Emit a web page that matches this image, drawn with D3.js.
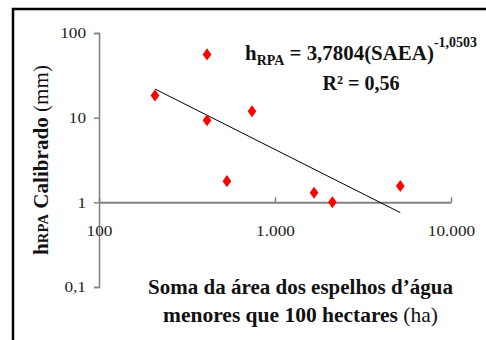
<!DOCTYPE html>
<html><head><meta charset="utf-8">
<script src="https://cdn.jsdelivr.net/npm/d3@7"></script>
<style>body{margin:0;background:#fff}svg{display:block}</style>
</head><body><svg id="c" width="486" height="340"></svg>
<script>
const areaHa = [208, 411, 411, 740, 533, 1667, 2118, 5150];
const hRPA   = [18.3, 55.9, 9.3, 11.9, 1.78, 1.30, 1.0, 1.56];
const trendX = [208, 5150];
const trendY = [21.8, 0.756];
const xTicks = [100, 1000, 10000];
const xTickLabels = ["100", "1.000", "10.000"];
const yTicks = [0.1, 1, 10, 100];
const yTickLabels = ["0,1", "1", "10", "100"];

const svg = d3.select("#c");
const font = "'Liberation Serif', 'Times New Roman', serif";
const x = d3.scaleLog().domain([100, 10000]).range([99, 451]);
const y = d3.scaleLog().domain([0.1, 100]).range([287, 33]);
const axisGray = "#808080";

// fit a text's width by horizontal scaling around its anchor
function fit(t, w) {
  const bw = t.node().getBBox().width;
  t.attr("transform", `scale(${w / bw},1)`);
}

// frame
svg.append("path").attr("d", "M13,340 L13,9 L486,9").attr("fill", "none")
  .attr("stroke", "#000").attr("stroke-width", 2.5);

// y axis
const ya = svg.append("g").attr("transform", "translate(99,0)")
  .call(d3.axisLeft(y).tickValues(yTicks).tickSize(5).tickFormat((d,i)=>yTickLabels[i]));
ya.select(".domain").attr("stroke", axisGray).attr("stroke-width", 1.5);
ya.selectAll(".tick line").attr("stroke", axisGray).attr("stroke-width", 1.5);
ya.selectAll(".tick text").attr("font-family", font).attr("font-size", 15).attr("fill", "#222")
  .attr("x", 0).attr("transform", "translate(-13,0) scale(1.15,1)");

// x axis at y=1
const xa = svg.append("g").attr("transform", `translate(0,${y(1)})`)
  .call(d3.axisTop(x).tickValues(xTicks).tickSize(5).tickSizeOuter(0).tickFormat((d,i)=>xTickLabels[i]));
xa.select(".domain").attr("stroke", axisGray).attr("stroke-width", 2);
xa.selectAll(".tick line").attr("stroke", axisGray).attr("stroke-width", 1.5);
xa.selectAll(".tick text").attr("font-family", font).attr("font-size", 15).attr("fill", "#222")
  .attr("y", 0).attr("dy", 0).attr("transform", "translate(0,34) scale(1.15,1)");

// trend line
svg.append("line").attr("x1", x(trendX[0])).attr("y1", y(trendY[0]))
  .attr("x2", x(trendX[1])).attr("y2", y(trendY[1]))
  .attr("stroke", "#000").attr("stroke-width", 1);

// points
svg.selectAll(".pt").data(areaHa).enter().append("path").attr("class","pt")
  .attr("d", d3.symbol().type(d3.symbolDiamond).size(42))
  .attr("transform", (d,i)=>`translate(${x(d)},${y(hRPA[i])}) scale(1.25,1)`)
  .attr("fill", "#ff0000");

// equation
const eqG = svg.append("g").attr("transform", "translate(245,60)");
const eq = eqG.append("text").attr("font-family", font)
  .attr("font-weight", "bold").attr("font-size", 21).attr("fill", "#111");
eq.append("tspan").text("h");
eq.append("tspan").text("RPA").attr("font-size", 14).attr("dy", 5);
eq.append("tspan").text(" = 3,7804(SAEA)").attr("dy", -5);
eq.append("tspan").text("-1,0503").attr("font-size", 14).attr("dy", -13);
fit(eq, 232);
const r2G = svg.append("g").attr("transform", "translate(361,90)");
const r2 = r2G.append("text").attr("text-anchor", "middle").attr("font-family", font)
  .attr("font-weight", "bold").attr("font-size", 21).attr("fill", "#111").text("R² = 0,56");
fit(r2, 77);

// y title
const ytG = svg.append("g").attr("transform", "translate(48,160) rotate(-90)");
const yt = ytG.append("text").attr("text-anchor", "middle").attr("font-family", font)
  .attr("font-size", 20).attr("fill", "#111");
yt.append("tspan").text("h").attr("font-weight", "bold");
yt.append("tspan").text("RPA").attr("font-weight", "bold").attr("font-size", 14);
yt.append("tspan").text(" Calibrado").attr("font-weight", "bold");
yt.append("tspan").text(" (mm)");
fit(yt, 190);

// x title
const xt1G = svg.append("g").attr("transform", "translate(300.5,294)");
const xt1 = xt1G.append("text").attr("text-anchor", "middle").attr("font-family", font)
  .attr("font-weight", "bold").attr("font-size", 20).attr("fill", "#111").text("Soma da área dos espelhos d’água");
fit(xt1, 305);
const xt2G = svg.append("g").attr("transform", "translate(300.5,322)");
const xt2 = xt2G.append("text").attr("text-anchor", "middle").attr("font-family", font)
  .attr("font-size", 20).attr("fill", "#111");
xt2.append("tspan").text("menores que 100 hectares").attr("font-weight", "bold");
xt2.append("tspan").text(" (ha)");
fit(xt2, 275);
</script></body></html>
